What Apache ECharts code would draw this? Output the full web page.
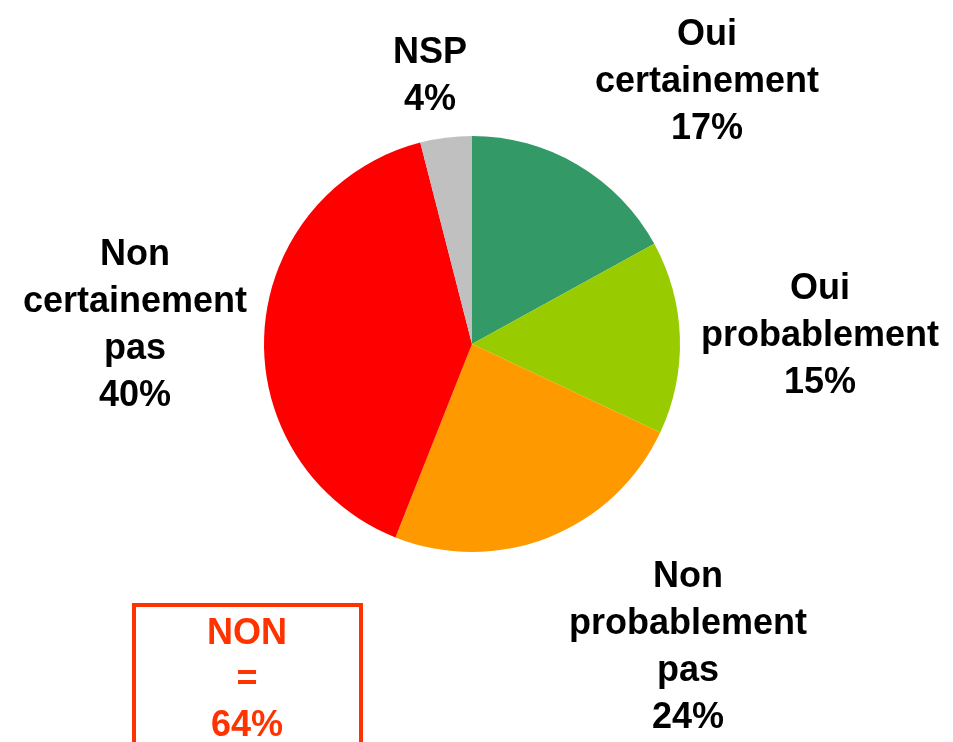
<!DOCTYPE html>
<html>
<head>
<meta charset="utf-8">
<script src="https://cdn.jsdelivr.net/npm/echarts@6/dist/echarts.min.js"></script>
<style>
  html, body { margin: 0; padding: 0; background: #fff; }
  #chart { width: 953px; height: 742px; }
</style>
</head>
<body>
<div id="chart"></div>
<script>
// categories and values (percent), clockwise from the top
const categories = ["Oui\ncertainement", "Oui\nprobablement", "Non\nprobablement\npas", "Non\ncertainement\npas", "NSP"];
const values = [17, 15, 24, 40, 4];
const colors = ["#339966", "#99cc00", "#ff9900", "#ff0000", "#c0c0c0"];
// label block centres (px)
const labelPos = [[707, 82], [820, 336], [688, 648], [135, 326], [430, 77]];

const nonTotal = values[2] + values[3];
const font = "Liberation Sans, Arial, sans-serif";

const chart = echarts.init(document.getElementById("chart"));
chart.setOption({
  animation: false,
  series: [
    {
      type: "pie",
      center: [472, 344],
      radius: 208,
      startAngle: 90,
      clockwise: true,
      data: categories.map((name, i) => ({
        name: name,
        value: values[i],
        itemStyle: { color: colors[i] }
      })),
      label: {
        show: true,
        position: "outside",
        formatter: p => p.name + "\n" + p.value + "%",
        color: "#000",
        fontFamily: font,
        fontWeight: "bold",
        fontSize: 36,
        lineHeight: 47,
        align: "center",
        overflow: "none"
      },
      labelLine: { show: false },
      labelLayout: function (params) {
        const pos = labelPos[params.dataIndex];
        return { x: pos[0], y: pos[1], align: "center", verticalAlign: "middle" };
      },
      emphasis: { disabled: true }
    }
  ],
  graphic: [
    {
      type: "rect",
      shape: { x: 134, y: 605, width: 227, height: 200 },
      style: { fill: "none", stroke: "#ff3300", lineWidth: 4 }
    },
    {
      type: "text",
      x: 247,
      y: 680,
      style: {
        text: "NON\n=\n" + nonTotal + "%",
        fill: "#ff3300",
        font: "bold 36px " + font,
        lineHeight: 46,
        align: "center",
        verticalAlign: "middle"
      }
    }
  ]
});
</script>
</body>
</html>
